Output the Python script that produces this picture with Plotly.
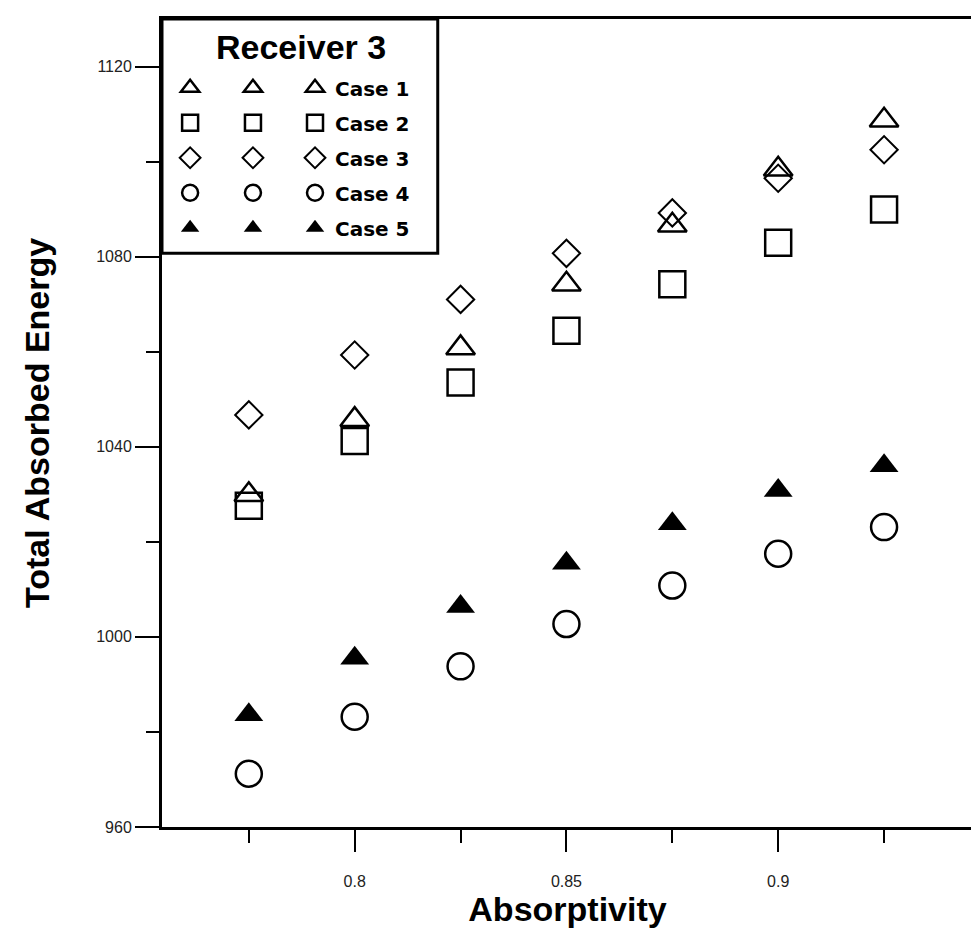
import plotly.graph_objects as go

# ---- data ----
absorptivity = [0.775, 0.8, 0.825, 0.85, 0.875, 0.9, 0.925]
case1 = [1029.9, 1045.7, 1060.8, 1074.2, 1086.6, 1098.4, 1108.7]
case2 = [1027.6, 1041.2, 1053.5, 1064.4, 1074.2, 1082.9, 1089.9]
case3 = [1046.7, 1059.3, 1071.0, 1080.7, 1089.2, 1096.5, 1102.5]
case4 = [971.2, 983.2, 993.8, 1002.7, 1010.8, 1017.5, 1023.1]
case5 = [983.6, 995.5, 1006.4, 1015.5, 1023.8, 1030.8, 1036.0]
case_names = ["Case 1", "Case 2", "Case 3", "Case 4", "Case 5"]
legend_title = "Receiver 3"

series = [case1, case2, case3, case4, case5]
styles = [
    dict(symbol="triangle-up-open", size=25, line=dict(width=2.5, color="black"), color="black"),
    dict(symbol="square-open", size=26, line=dict(width=2.5, color="black"), color="black"),
    dict(symbol="diamond-open", size=21, line=dict(width=2, color="black"), color="black"),
    dict(symbol="circle-open", size=26, line=dict(width=2.5, color="black"), color="black"),
    dict(symbol="triangle-up", size=25, line=dict(width=0, color="black"), color="black"),
]

fig = go.Figure()
for i, (vals, st) in enumerate(zip(series, styles)):
    fig.add_trace(go.Scatter(
        x=absorptivity, y=vals, mode="markers", marker=st,
        name="<b>" + case_names[i] + "</b>", legend="legend",
        legendgroup="g%d" % i,
    ))
# extra legend symbol columns (legend shows three symbols per row)
for leg in ["legend2", "legend3"]:
    for i, st in enumerate(styles):
        fig.add_trace(go.Scatter(
            x=[None], y=[None], mode="markers", marker=st,
            name=" ", legend=leg, legendgroup="g%d" % i, hoverinfo="skip",
        ))

font_leg = dict(family="DejaVu Sans", size=20, color="black")
common_leg = dict(font=font_leg, bgcolor="rgba(0,0,0,0)", borderwidth=0,
                  traceorder="grouped", tracegroupgap=6, yanchor="top",
                  xanchor="left", itemsizing="trace")

fig.update_layout(
    width=979, height=931,
    margin=dict(l=154, r=14, t=8, b=112),
    paper_bgcolor="white", plot_bgcolor="white",
    showlegend=True,
    legend=dict(x=0.164, y=0.939, **common_leg),
    legend2=dict(x=0.010, y=0.939, **common_leg),
    legend3=dict(x=0.0875, y=0.939, **common_leg),
    xaxis=dict(
        range=[0.7545, 0.946], tick0=0.8, dtick=0.05,
        ticks="outside", ticklen=22, tickwidth=2, tickcolor="black",
        minor=dict(tick0=0.775, dtick=0.025, ticks="outside", ticklen=13,
                   tickwidth=2, tickcolor="black"),
        showline=True, linewidth=3, linecolor="black", mirror=True,
        showgrid=False, zeroline=False, ticklabelstandoff=16,
        tickfont=dict(family="Liberation Sans, Arial", size=16, color="#222"),
        title=dict(text="<b>Absorptivity</b>",
                   font=dict(family="Liberation Sans, Arial", size=34, color="black"),
                   standoff=8),
    ),
    yaxis=dict(
        range=[960, 1130], tick0=960, dtick=40,
        ticks="outside", ticklen=24, tickwidth=2, tickcolor="black",
        minor=dict(tick0=960, dtick=20, ticks="outside", ticklen=13,
                   tickwidth=2, tickcolor="black"),
        showline=True, linewidth=3, linecolor="black", mirror=True,
        showgrid=False, zeroline=False,
        tickfont=dict(family="Liberation Sans, Arial", size=16, color="#222"),
        title=dict(text="<b>Total Absorbed Energy</b>",
                   font=dict(family="Liberation Sans, Arial", size=34, color="black"),
                   standoff=37),
    ),
    shapes=[dict(type="rect", xref="paper", yref="paper",
                 x0=0.0, x1=0.340, y0=0.710, y1=1.0,
                 line=dict(color="black", width=3), fillcolor="rgba(0,0,0,0)")],
    annotations=[dict(text="<b>" + legend_title + "</b>", xref="paper", yref="paper",
                      x=0.171, y=0.9655, xanchor="center", yanchor="middle",
                      showarrow=False,
                      font=dict(family="Liberation Sans, Arial", size=34, color="black"))],
)

fig.write_html("out.html")
